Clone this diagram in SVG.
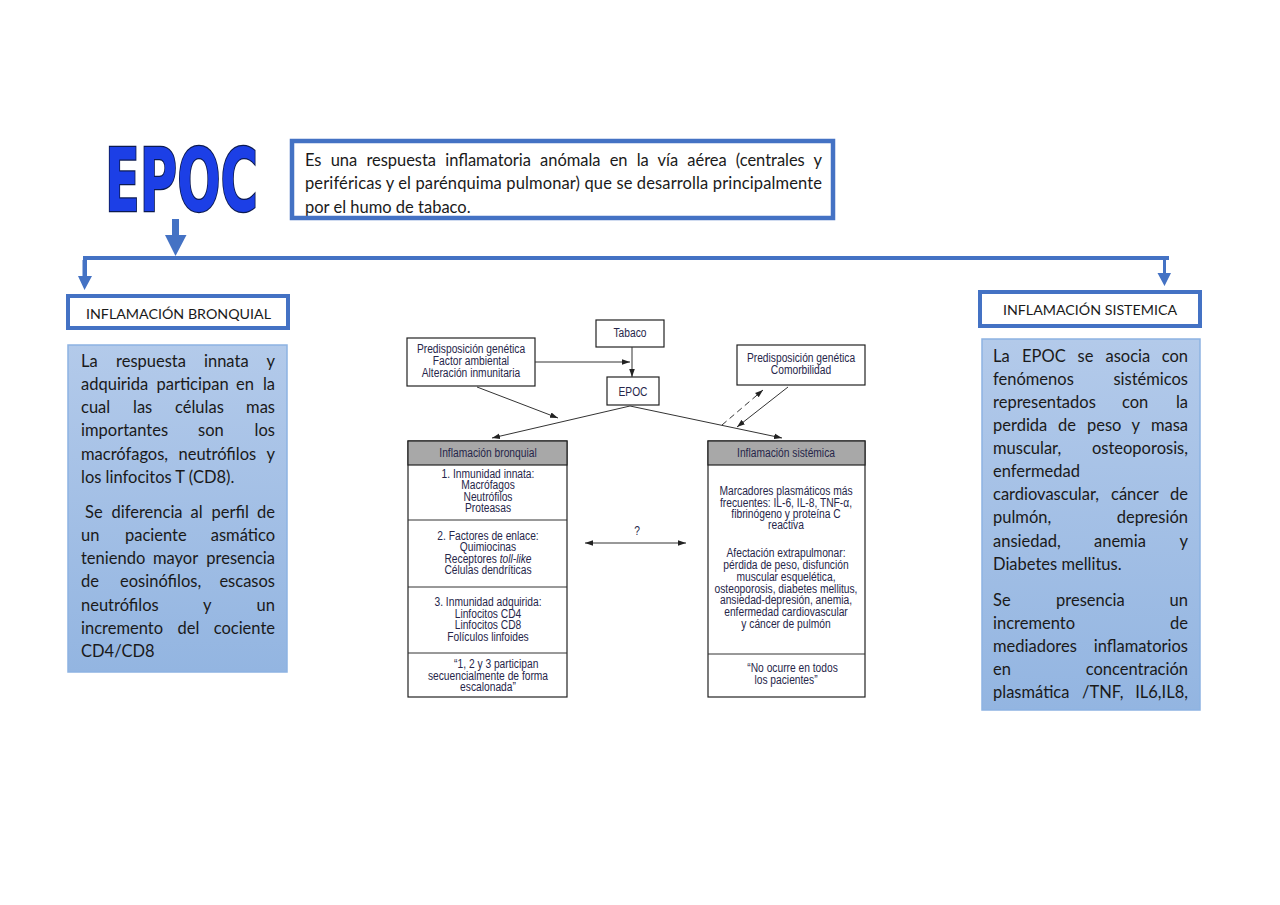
<svg xmlns="http://www.w3.org/2000/svg" width="1280" height="905" viewBox="0 0 1280 905">
<style>
.body{font-family:Lato,"Liberation Sans",sans-serif;font-size:16.5px;fill:#1a1a1a}
.lbl{font-family:Lato,"Liberation Sans",sans-serif;font-size:14px;fill:#1a1a1a}
.fig{font-family:"Liberation Sans",Arial,sans-serif;font-size:12.5px;fill:#26264a;text-anchor:middle}
.e{text-anchor:end}
.lbox{fill:#fff;stroke:#4472C4;stroke-width:4}
.bbox{fill:url(#g);stroke:#8DB3E2;stroke-width:1.5}
.fbox{fill:#fff;stroke:#222;stroke-width:1.2}
.hdr{fill:#a8a8a8;stroke:#222;stroke-width:1.2}
.fl{stroke:#333;stroke-width:1;fill:none}
.big{fill:#4472C4}
</style>
<defs>
<linearGradient id="g" x1="0" y1="0" x2="0" y2="1">
<stop offset="0" stop-color="#B3CAEA"/>
<stop offset="1" stop-color="#93B5E1"/>
</linearGradient>
<marker id="ah" viewBox="0 0 10 10" refX="10" refY="5" markerWidth="8" markerHeight="8" markerUnits="userSpaceOnUse" orient="auto-start-reverse">
<path d="M0,1.5 L10,5 L0,8.5 z" fill="#222"/>
</marker>
</defs>
<rect width="1280" height="905" fill="#fff"/>

<g id="title">
<text x="105" y="211" font-family="'DejaVu Sans Condensed','DejaVu Sans',sans-serif" font-weight="bold" font-size="88" textLength="153" lengthAdjust="spacingAndGlyphs" fill="#1C3FE6" stroke="#0B1A50" stroke-width="2.5" paint-order="stroke">EPOC</text>
</g>

<g id="definicion">
<text class="body" x="305" y="166" word-spacing="5" textLength="517" lengthAdjust="spacing">Es una respuesta inflamatoria anómala en la vía aérea (centrales y</text>
<text class="body" x="305" y="189" textLength="517" lengthAdjust="spacing">periféricas y el parénquima pulmonar) que se desarrolla principalmente</text>
<text class="body" x="305" y="213">por el humo de tabaco.</text>
<rect x="292" y="141" width="541" height="77" fill="none" stroke="#4472C4" stroke-width="4.5"/>
</g>

<g id="label-bronquial">
<rect class="lbox" x="68" y="296" width="220" height="32"/>
<text class="lbl" x="86" y="319" textLength="185" lengthAdjust="spacingAndGlyphs">INFLAMACIÓN BRONQUIAL</text>
</g>

<g id="label-sistemica">
<rect class="lbox" x="980" y="292" width="220" height="34"/>
<text class="lbl" x="1003" y="315" textLength="174" lengthAdjust="spacingAndGlyphs">INFLAMACIÓN SISTEMICA</text>
</g>

<g id="texto-bronquial">
<rect class="bbox" x="68" y="345" width="219" height="327"/>
<text class="body" x="81" y="367">La</text><text class="body" x="116" y="367">respuesta</text><text class="body" x="204" y="367">innata</text><text class="body e" x="275" y="367">y</text>
<text class="body" x="81" y="390">adquirida</text><text class="body" x="156.5" y="390">participan</text><text class="body" x="236" y="390">en</text><text class="body e" x="275" y="390">la</text>
<text class="body" x="81" y="413">cual</text><text class="body" x="133" y="413">las</text><text class="body" x="175" y="413">células</text><text class="body e" x="275" y="413">mas</text>
<text class="body" x="81" y="436">importantes</text><text class="body" x="198" y="436">son</text><text class="body e" x="275" y="436">los</text>
<text class="body" x="81" y="460">macrófagos,</text><text class="body" x="178.5" y="460">neutrófilos</text><text class="body e" x="275" y="460">y</text>
<text class="body" x="81" y="483">los linfocitos T (CD8).</text>
<text class="body" x="85" y="518">Se</text><text class="body" x="111.5" y="518">diferencia</text><text class="body" x="190.5" y="518">al</text><text class="body" x="211.5" y="518">perfil</text><text class="body e" x="275" y="518">de</text>
<text class="body" x="81" y="541">un</text><text class="body" x="125" y="541">paciente</text><text class="body e" x="275" y="541">asmático</text>
<text class="body" x="81" y="564">teniendo</text><text class="body" x="153" y="564">mayor</text><text class="body e" x="275" y="564">presencia</text>
<text class="body" x="81" y="587">de</text><text class="body" x="120" y="587">eosinófilos,</text><text class="body e" x="275" y="587">escasos</text>
<text class="body" x="81" y="611">neutrófilos</text><text class="body" x="203" y="611">y</text><text class="body e" x="275" y="611">un</text>
<text class="body" x="81" y="634">incremento</text><text class="body" x="177.5" y="634">del</text><text class="body e" x="275" y="634">cociente</text>
<text class="body" x="81" y="657">CD4/CD8</text>
</g>

<g id="texto-sistemica">
<rect class="bbox" x="982" y="339" width="218" height="371"/>
<text class="body" x="993" y="362">La</text><text class="body" x="1022" y="362">EPOC</text><text class="body" x="1077.5" y="362">se</text><text class="body" x="1105.5" y="362">asocia</text><text class="body e" x="1188" y="362">con</text>
<text class="body" x="993" y="385">fenómenos</text><text class="body e" x="1188" y="385">sistémicos</text>
<text class="body" x="993" y="408">representados</text><text class="body" x="1122" y="408">con</text><text class="body e" x="1188" y="408">la</text>
<text class="body" x="993" y="431">perdida</text><text class="body" x="1058" y="431">de</text><text class="body" x="1087" y="431">peso</text><text class="body" x="1131.5" y="431">y</text><text class="body e" x="1188" y="431">masa</text>
<text class="body" x="993" y="454">muscular,</text><text class="body e" x="1188" y="454">osteoporosis,</text>
<text class="body" x="993" y="477">enfermedad</text>
<text class="body" x="993" y="500">cardiovascular,</text><text class="body" x="1111" y="500">cáncer</text><text class="body e" x="1188" y="500">de</text>
<text class="body" x="993" y="523">pulmón,</text><text class="body e" x="1188" y="523">depresión</text>
<text class="body" x="993" y="547">ansiedad,</text><text class="body" x="1094" y="547">anemia</text><text class="body e" x="1188" y="547">y</text>
<text class="body" x="993" y="570">Diabetes mellitus.</text>
<text class="body" x="993" y="606">Se</text><text class="body" x="1056" y="606">presencia</text><text class="body e" x="1188" y="606">un</text>
<text class="body" x="993" y="629">incremento</text><text class="body e" x="1188" y="629">de</text>
<text class="body" x="993" y="652">mediadores</text><text class="body e" x="1188" y="652">inflamatorios</text>
<text class="body" x="993" y="675">en</text><text class="body e" x="1188" y="675">concentración</text>
<text class="body" x="993" y="698">plasmática</text><text class="body" x="1082" y="698">/TNF,</text><text class="body e" x="1188" y="698">IL6,IL8,</text>
</g>

<g id="fig-predisposicion">
<rect class="fbox" x="407" y="338" width="128" height="48"/>
<g transform="translate(471 0) scale(0.82 1)">
<text class="fig" x="0" y="353">Predisposición genética</text>
<text class="fig" x="0" y="365">Factor ambiental</text>
<text class="fig" x="0" y="377">Alteración inmunitaria</text>
</g>
</g>

<g id="fig-tabaco">
<rect class="fbox" x="596" y="320" width="68" height="27"/>
<g transform="translate(630 0) scale(0.82 1)"><text class="fig" x="0" y="337">Tabaco</text></g>
</g>

<g id="fig-epoc">
<rect class="fbox" x="607" y="377" width="52" height="28"/>
<g transform="translate(633 0) scale(0.82 1)"><text class="fig" x="0" y="396">EPOC</text></g>
</g>

<g id="fig-comorbilidad">
<rect class="fbox" x="737" y="345" width="128" height="40"/>
<g transform="translate(801 0) scale(0.82 1)">
<text class="fig" x="0" y="362">Predisposición genética</text>
<text class="fig" x="0" y="374">Comorbilidad</text>
</g>
</g>

<g id="fig-bronquial">
<rect class="fbox" x="408" y="441" width="159" height="256"/>
<rect class="hdr" x="408" y="441" width="159" height="24"/>
<line class="fl" x1="408" y1="520" x2="567" y2="520" stroke-width="1.5"/>
<line class="fl" x1="408" y1="587" x2="567" y2="587" stroke-width="1.5"/>
<line class="fl" x1="408" y1="653" x2="567" y2="653" stroke-width="1.5"/>
<g transform="translate(488 0) scale(0.82 1)">
<text class="fig" x="0" y="457" fill="#2a2a3a">Inflamación bronquial</text>
<text class="fig" x="0" y="478">1. Inmunidad innata:</text>
<text class="fig" x="0" y="489">Macrófagos</text>
<text class="fig" x="0" y="501">Neutrófilos</text>
<text class="fig" x="0" y="512">Proteasas</text>
<text class="fig" x="0" y="540">2. Factores de enlace:</text>
<text class="fig" x="0" y="551">Quimiocinas</text>
<text class="fig" x="0" y="563">Receptores <tspan font-style="italic">toll-like</tspan></text>
<text class="fig" x="0" y="574">Células dendríticas</text>
<text class="fig" x="0" y="606">3. Inmunidad adquirida:</text>
<text class="fig" x="0" y="618">Linfocitos CD4</text>
<text class="fig" x="0" y="629">Linfocitos CD8</text>
<text class="fig" x="0" y="641">Folículos linfoides</text>
<text class="fig" x="10" y="668">“1, 2 y 3 participan</text>
<text class="fig" x="0" y="680">secuencialmente de forma</text>
<text class="fig" x="0" y="691">escalonada”</text>
</g>
</g>

<g id="fig-sistemica">
<rect class="fbox" x="708" y="441" width="157" height="256"/>
<rect class="hdr" x="708" y="441" width="157" height="24"/>
<line class="fl" x1="708" y1="654" x2="865" y2="654" stroke-width="1.5"/>
<g transform="translate(786 0) scale(0.82 1)">
<text class="fig" x="0" y="457" fill="#2a2a3a">Inflamación sistémica</text>
<text class="fig" x="0" y="495">Marcadores plasmáticos más</text>
<text class="fig" x="0" y="507">frecuentes: IL-6, IL-8, TNF-α,</text>
<text class="fig" x="0" y="518">fibrinógeno y proteína C</text>
<text class="fig" x="0" y="529">reactiva</text>
<text class="fig" x="0" y="557">Afectación extrapulmonar:</text>
<text class="fig" x="0" y="569">pérdida de peso, disfunción</text>
<text class="fig" x="0" y="581">muscular esquelética,</text>
<text class="fig" x="0" y="593">osteoporosis, diabetes mellitus,</text>
<text class="fig" x="0" y="604">ansiedad-depresión, anemia,</text>
<text class="fig" x="0" y="616">enfermedad cardiovascular</text>
<text class="fig" x="0" y="628">y cáncer de pulmón</text>
<text class="fig" x="8" y="672">“No ocurre en todos</text>
<text class="fig" x="0" y="684">los pacientes”</text>
</g>
<g transform="translate(637 0) scale(0.82 1)"><text class="fig" x="0" y="535">?</text></g>
</g>

<g id="connectors">
<polygon class="big" points="172,219 179,219 179,235 186.5,235 175.5,256 165,235 172,235"/>
<rect class="big" x="83" y="256" width="1086" height="4"/>
<polygon class="big" points="82.5,260 87,260 87,276 92,276 84.5,290 78,276 82.5,276"/>
<polygon class="big" points="1163,258 1166,258 1166,273 1171,273 1164.5,286 1157.5,273 1163,273"/>
<line class="fl" x1="632" y1="347" x2="632" y2="377" marker-end="url(#ah)"/>
<line class="fl" x1="535" y1="362" x2="630" y2="362" marker-end="url(#ah)"/>
<line class="fl" x1="477" y1="387" x2="558" y2="418" marker-end="url(#ah)"/>
<line class="fl" x1="630" y1="406" x2="492" y2="438" marker-end="url(#ah)"/>
<line class="fl" x1="630" y1="406" x2="782" y2="438" marker-end="url(#ah)"/>
<line class="fl" x1="722" y1="425" x2="763" y2="390" stroke-dasharray="6,4" marker-end="url(#ah)"/>
<line class="fl" x1="788" y1="387" x2="737" y2="427" marker-end="url(#ah)"/>
<line class="fl" x1="585" y1="543" x2="686" y2="543" marker-start="url(#ah)" marker-end="url(#ah)"/>
</g>
</svg>
